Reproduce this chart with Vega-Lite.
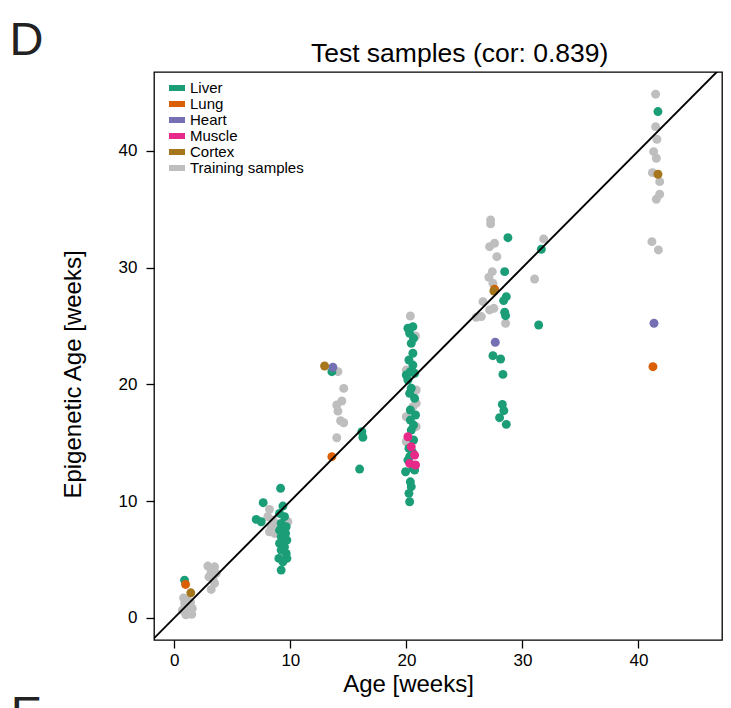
{
  "$schema": "https://vega.github.io/schema/vega-lite/v6.json",
  "autosize": "none",
  "padding": {"left": 154, "top": 72, "right": 9, "bottom": 68},
  "width": 568,
  "height": 568,
  "background": "white",
  "config": {
    "font": "Liberation Sans",
    "view": {"stroke": "black", "strokeWidth": 1.3},
    "axis": {"grid": false, "domain": false, "tickColor": "black", "tickWidth": 1.3, "tickSize": 8, "labelColor": "black", "labelFont": "Liberation Sans", "labelFontSize": 17, "titleFont": "Liberation Sans", "titleFontSize": 24, "titleFontWeight": "normal", "titleColor": "black"}
  },
  "datasets": {
    "samples": [
    {"age": 0.8, "epi": 1.7, "group": "Training samples"},
    {"age": 1.1, "epi": 1.5, "group": "Training samples"},
    {"age": 0.9, "epi": 1.2, "group": "Training samples"},
    {"age": 1.3, "epi": 1.1, "group": "Training samples"},
    {"age": 1.05, "epi": 0.75, "group": "Training samples"},
    {"age": 1.55, "epi": 0.8, "group": "Training samples"},
    {"age": 0.7, "epi": 0.65, "group": "Training samples"},
    {"age": 1.2, "epi": 0.5, "group": "Training samples"},
    {"age": 1.5, "epi": 0.3, "group": "Training samples"},
    {"age": 1.0, "epi": 0.25, "group": "Training samples"},
    {"age": 1.4, "epi": 1.35, "group": "Training samples"},
    {"age": 2.89, "epi": 4.43, "group": "Training samples"},
    {"age": 3.47, "epi": 4.37, "group": "Training samples"},
    {"age": 3.18, "epi": 3.94, "group": "Training samples"},
    {"age": 3.61, "epi": 3.8, "group": "Training samples"},
    {"age": 2.98, "epi": 3.51, "group": "Training samples"},
    {"age": 3.33, "epi": 3.37, "group": "Training samples"},
    {"age": 3.47, "epi": 2.95, "group": "Training samples"},
    {"age": 3.18, "epi": 2.43, "group": "Training samples"},
    {"age": 8.2, "epi": 9.29, "group": "Training samples"},
    {"age": 8.49, "epi": 8.37, "group": "Training samples"},
    {"age": 8.35, "epi": 7.8, "group": "Training samples"},
    {"age": 8.2, "epi": 7.37, "group": "Training samples"},
    {"age": 8.64, "epi": 7.23, "group": "Training samples"},
    {"age": 8.78, "epi": 8.09, "group": "Training samples"},
    {"age": 9.79, "epi": 8.23, "group": "Training samples"},
    {"age": 8.06, "epi": 8.66, "group": "Training samples"},
    {"age": 14.1, "epi": 21.08, "group": "Training samples"},
    {"age": 14.6, "epi": 19.65, "group": "Training samples"},
    {"age": 14.44, "epi": 18.57, "group": "Training samples"},
    {"age": 14.0, "epi": 18.23, "group": "Training samples"},
    {"age": 14.1, "epi": 17.71, "group": "Training samples"},
    {"age": 14.33, "epi": 16.88, "group": "Training samples"},
    {"age": 14.6, "epi": 16.71, "group": "Training samples"},
    {"age": 14.0, "epi": 15.42, "group": "Training samples"},
    {"age": 20.34, "epi": 25.85, "group": "Training samples"},
    {"age": 20.79, "epi": 24.14, "group": "Training samples"},
    {"age": 19.99, "epi": 21.22, "group": "Training samples"},
    {"age": 20.85, "epi": 19.51, "group": "Training samples"},
    {"age": 20.56, "epi": 18.08, "group": "Training samples"},
    {"age": 19.99, "epi": 17.22, "group": "Training samples"},
    {"age": 20.85, "epi": 16.37, "group": "Training samples"},
    {"age": 19.99, "epi": 15.08, "group": "Training samples"},
    {"age": 20.85, "epi": 18.37, "group": "Training samples"},
    {"age": 27.26, "epi": 34.08, "group": "Training samples"},
    {"age": 27.26, "epi": 33.74, "group": "Training samples"},
    {"age": 27.17, "epi": 31.79, "group": "Training samples"},
    {"age": 27.6, "epi": 32.08, "group": "Training samples"},
    {"age": 27.8, "epi": 30.93, "group": "Training samples"},
    {"age": 27.4, "epi": 29.65, "group": "Training samples"},
    {"age": 27.11, "epi": 29.17, "group": "Training samples"},
    {"age": 27.46, "epi": 28.65, "group": "Training samples"},
    {"age": 26.6, "epi": 27.08, "group": "Training samples"},
    {"age": 27.17, "epi": 26.37, "group": "Training samples"},
    {"age": 27.54, "epi": 26.51, "group": "Training samples"},
    {"age": 26.02, "epi": 25.74, "group": "Training samples"},
    {"age": 26.46, "epi": 25.8, "group": "Training samples"},
    {"age": 28.55, "epi": 25.23, "group": "Training samples"},
    {"age": 31.83, "epi": 32.45, "group": "Training samples"},
    {"age": 31.05, "epi": 29.02, "group": "Training samples"},
    {"age": 41.48, "epi": 44.85, "group": "Training samples"},
    {"age": 41.48, "epi": 42.07, "group": "Training samples"},
    {"age": 41.59, "epi": 40.99, "group": "Training samples"},
    {"age": 41.31, "epi": 39.93, "group": "Training samples"},
    {"age": 41.54, "epi": 39.36, "group": "Training samples"},
    {"age": 41.2, "epi": 38.13, "group": "Training samples"},
    {"age": 41.83, "epi": 37.36, "group": "Training samples"},
    {"age": 41.83, "epi": 36.28, "group": "Training samples"},
    {"age": 41.54, "epi": 35.85, "group": "Training samples"},
    {"age": 41.16, "epi": 32.22, "group": "Training samples"},
    {"age": 41.72, "epi": 31.51, "group": "Training samples"},
    {"age": 0.88, "epi": 3.23, "group": "Liver"},
    {"age": 9.16, "epi": 11.09, "group": "Liver"},
    {"age": 7.66, "epi": 9.86, "group": "Liver"},
    {"age": 7.06, "epi": 8.43, "group": "Liver"},
    {"age": 7.49, "epi": 8.23, "group": "Liver"},
    {"age": 9.36, "epi": 9.57, "group": "Liver"},
    {"age": 9.07, "epi": 8.94, "group": "Liver"},
    {"age": 9.5, "epi": 8.66, "group": "Liver"},
    {"age": 9.21, "epi": 8.09, "group": "Liver"},
    {"age": 9.64, "epi": 7.8, "group": "Liver"},
    {"age": 9.07, "epi": 7.51, "group": "Liver"},
    {"age": 9.59, "epi": 7.23, "group": "Liver"},
    {"age": 9.21, "epi": 6.94, "group": "Liver"},
    {"age": 9.7, "epi": 6.66, "group": "Liver"},
    {"age": 9.07, "epi": 6.37, "group": "Liver"},
    {"age": 9.5, "epi": 6.08, "group": "Liver"},
    {"age": 9.21, "epi": 5.8, "group": "Liver"},
    {"age": 9.64, "epi": 5.52, "group": "Liver"},
    {"age": 9.01, "epi": 5.09, "group": "Liver"},
    {"age": 9.7, "epi": 5.09, "group": "Liver"},
    {"age": 9.36, "epi": 4.8, "group": "Liver"},
    {"age": 9.21, "epi": 4.09, "group": "Liver"},
    {"age": 13.58, "epi": 21.08, "group": "Liver"},
    {"age": 16.16, "epi": 15.94, "group": "Liver"},
    {"age": 16.25, "epi": 15.46, "group": "Liver"},
    {"age": 15.97, "epi": 12.74, "group": "Liver"},
    {"age": 20.13, "epi": 24.8, "group": "Liver"},
    {"age": 20.56, "epi": 24.94, "group": "Liver"},
    {"age": 20.28, "epi": 24.37, "group": "Liver"},
    {"age": 20.62, "epi": 23.94, "group": "Liver"},
    {"age": 20.42, "epi": 23.51, "group": "Liver"},
    {"age": 20.56, "epi": 22.66, "group": "Liver"},
    {"age": 20.22, "epi": 22.08, "group": "Liver"},
    {"age": 20.56, "epi": 21.65, "group": "Liver"},
    {"age": 19.99, "epi": 20.8, "group": "Liver"},
    {"age": 20.34, "epi": 21.08, "group": "Liver"},
    {"age": 20.71, "epi": 20.94, "group": "Liver"},
    {"age": 20.13, "epi": 20.37, "group": "Liver"},
    {"age": 20.42, "epi": 19.66, "group": "Liver"},
    {"age": 20.28, "epi": 19.23, "group": "Liver"},
    {"age": 20.71, "epi": 18.8, "group": "Liver"},
    {"age": 20.34, "epi": 17.8, "group": "Liver"},
    {"age": 20.79, "epi": 17.37, "group": "Liver"},
    {"age": 20.34, "epi": 16.94, "group": "Liver"},
    {"age": 20.62, "epi": 16.51, "group": "Liver"},
    {"age": 20.42, "epi": 16.08, "group": "Liver"},
    {"age": 20.62, "epi": 15.23, "group": "Liver"},
    {"age": 20.22, "epi": 14.51, "group": "Liver"},
    {"age": 20.51, "epi": 14.22, "group": "Liver"},
    {"age": 20.28, "epi": 13.8, "group": "Liver"},
    {"age": 20.13, "epi": 13.51, "group": "Liver"},
    {"age": 20.56, "epi": 12.8, "group": "Liver"},
    {"age": 19.93, "epi": 12.51, "group": "Liver"},
    {"age": 20.71, "epi": 12.66, "group": "Liver"},
    {"age": 20.34, "epi": 11.65, "group": "Liver"},
    {"age": 20.42, "epi": 11.23, "group": "Liver"},
    {"age": 20.22, "epi": 10.66, "group": "Liver"},
    {"age": 20.28, "epi": 9.94, "group": "Liver"},
    {"age": 28.75, "epi": 32.56, "group": "Liver"},
    {"age": 31.63, "epi": 31.57, "group": "Liver"},
    {"age": 28.47, "epi": 29.65, "group": "Liver"},
    {"age": 28.61, "epi": 27.51, "group": "Liver"},
    {"age": 28.38, "epi": 27.17, "group": "Liver"},
    {"age": 28.47, "epi": 26.17, "group": "Liver"},
    {"age": 28.55, "epi": 25.88, "group": "Liver"},
    {"age": 31.4, "epi": 25.08, "group": "Liver"},
    {"age": 27.46, "epi": 22.45, "group": "Liver"},
    {"age": 28.12, "epi": 22.17, "group": "Liver"},
    {"age": 28.32, "epi": 20.85, "group": "Liver"},
    {"age": 28.27, "epi": 18.28, "group": "Liver"},
    {"age": 28.4, "epi": 17.74, "group": "Liver"},
    {"age": 28.03, "epi": 17.14, "group": "Liver"},
    {"age": 28.61, "epi": 16.57, "group": "Liver"},
    {"age": 41.68, "epi": 43.36, "group": "Liver"},
    {"age": 0.97, "epi": 2.86, "group": "Lung"},
    {"age": 13.58, "epi": 13.8, "group": "Lung"},
    {"age": 27.6, "epi": 28.14, "group": "Lung"},
    {"age": 41.25, "epi": 21.51, "group": "Lung"},
    {"age": 13.67, "epi": 21.46, "group": "Heart"},
    {"age": 27.66, "epi": 23.6, "group": "Heart"},
    {"age": 41.34, "epi": 25.23, "group": "Heart"},
    {"age": 20.13, "epi": 15.51, "group": "Muscle"},
    {"age": 20.42, "epi": 14.65, "group": "Muscle"},
    {"age": 20.71, "epi": 13.94, "group": "Muscle"},
    {"age": 20.28, "epi": 13.23, "group": "Muscle"},
    {"age": 20.79, "epi": 13.09, "group": "Muscle"},
    {"age": 1.42, "epi": 2.14, "group": "Cortex"},
    {"age": 12.95, "epi": 21.57, "group": "Cortex"},
    {"age": 27.54, "epi": 27.99, "group": "Cortex"},
    {"age": 41.68, "epi": 37.99, "group": "Cortex"}
    ],
    "one": [{}]
  },
  "layer": [
    {
      "data": {"name": "samples"},
      "transform": [{"filter": "datum.group === 'Training samples'"}],
      "mark": {"type": "point", "filled": true, "size": 80, "opacity": 1, "strokeWidth": 0},
      "encoding": {
        "x": {"field": "age", "type": "quantitative", "scale": {"domain": [-1.75, 47.2], "nice": false, "zero": false}, "axis": {"values": [0, 10, 20, 30, 40], "title": "Age [weeks]", "titleX": 254, "titlePadding": 4, "labelPadding": 4}},
        "y": {"field": "epi", "type": "quantitative", "scale": {"domain": [-1.9, 46.75], "nice": false, "zero": false}, "axis": {"values": [0, 10, 20, 30, 40], "title": "Epigenetic Age [weeks]", "titleY": 302, "titlePadding": 33, "labelPadding": 9}},
        "color": {"field": "group", "type": "nominal", "scale": {"domain": ["Training samples"], "range": ["#BEBEBE"]},
          "legend": {"title": null, "orient": "none", "legendX": 15, "legendY": 88, "symbolType": "M-1,-0.375H1V0.375H-1Z", "symbolSize": 256, "symbolStrokeWidth": 0, "symbolOpacity": 1, "labelFontSize": 15, "labelFont": "Liberation Sans", "labelColor": "black", "labelOffset": 5, "rowPadding": -1, "padding": 0}}
      }
    },
    {
      "data": {"name": "samples"},
      "transform": [{"filter": "datum.group !== 'Training samples'"}],
      "mark": {"type": "point", "filled": true, "size": 80, "opacity": 1, "strokeWidth": 0},
      "encoding": {
        "x": {"field": "age", "type": "quantitative"},
        "y": {"field": "epi", "type": "quantitative"},
        "color": {"field": "group", "type": "nominal", "scale": {"domain": ["Liver", "Lung", "Heart", "Muscle", "Cortex"], "range": ["#1B9E77", "#D95F02", "#7570B3", "#E7298A", "#A6761D"]},
          "legend": {"title": null, "orient": "none", "legendX": 15, "legendY": 8, "symbolType": "M-1,-0.375H1V0.375H-1Z", "symbolSize": 256, "symbolStrokeWidth": 0, "symbolOpacity": 1, "labelFontSize": 15, "labelFont": "Liberation Sans", "labelColor": "black", "labelOffset": 5, "rowPadding": -1, "padding": 0}}
      }
    },
    {
      "data": {"name": "one"},
      "mark": {"type": "rule", "color": "black", "strokeWidth": 1.9, "clip": true},
      "encoding": {
        "x": {"datum": -5, "type": "quantitative"},
        "y": {"datum": -5, "type": "quantitative"},
        "x2": {"datum": 50},
        "y2": {"datum": 50}
      }
    },
    {
      "data": {"name": "one"},
      "mark": {"type": "text", "text": "Test samples (cor: 0.839)", "fontSize": 26.5, "font": "Liberation Sans", "align": "center", "baseline": "alphabetic", "color": "black", "clip": false},
      "encoding": {
        "x": {"datum": 24.59, "type": "quantitative"},
        "y": {"datum": 47.62, "type": "quantitative"}
      }
    },
    {
      "data": {"name": "one"},
      "mark": {"type": "text", "text": "D", "fontSize": 47, "font": "Liberation Sans", "align": "center", "baseline": "alphabetic", "color": "#222222", "clip": false},
      "encoding": {
        "x": {"datum": -12.74, "type": "quantitative"},
        "y": {"datum": 48.2, "type": "quantitative"}
      }
    },
    {
      "data": {"name": "one"},
      "mark": {"type": "text", "text": "E", "fontSize": 47, "font": "Liberation Sans", "align": "center", "baseline": "top", "dy": -5, "color": "#222222", "clip": false},
      "encoding": {
        "x": {"datum": -12.74, "type": "quantitative"},
        "y": {"datum": -6.8, "type": "quantitative"}
      }
    }
  ],
  "resolve": {"scale": {"color": "independent"}}
}
